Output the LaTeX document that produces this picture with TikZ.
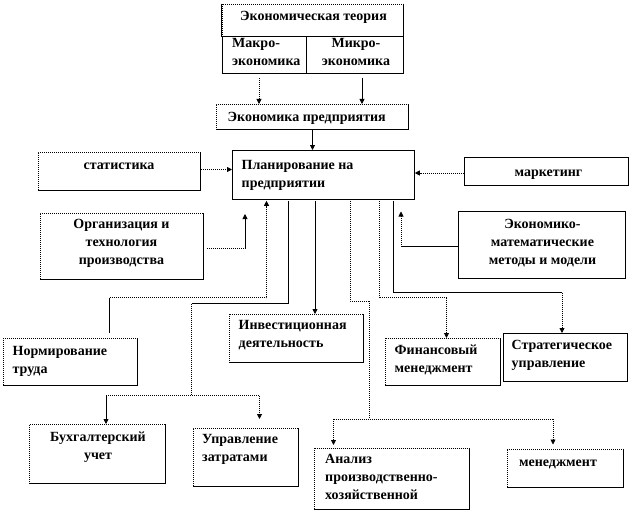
\documentclass[tikz,border=0pt]{standalone}
\usepackage{fontspec}
\setmainfont{Liberation Serif}
\usetikzlibrary{arrows.meta}
\begin{document}
\begin{tikzpicture}[x=1pt,y=-1pt,
  bx/.style={draw, dash pattern=on 1pt off 1pt, line width=0.8pt, inner sep=0pt, anchor=north west},
  bxs/.style={draw, line width=0.8pt, inner sep=0pt, anchor=north west},
  sl/.style={line width=0.8pt},
  dl/.style={line width=0.8pt, dash pattern=on 1pt off 1pt},
  arr/.style={-{Triangle[length=5pt,width=5pt]}},
  txt/.style={font=\bfseries\fontsize{14}{18}\selectfont, inner sep=0pt, align=left},
  txtc/.style={font=\bfseries\fontsize{14}{18}\selectfont, inner sep=0pt, align=center}]
\useasboundingbox (0,0) rectangle (630,511);
% boxes
\node[bx, minimum width=181, minimum height=32] (theory) at (221.5,4) {};
\node[bxs, minimum width=84.5, minimum height=37] (macro) at (221.5,36) {};
\node[bxs, minimum width=96.5, minimum height=37] (micro) at (306,36) {};
\node[bx, minimum width=192, minimum height=25] (ent) at (216,104) {};
\node[bx, minimum width=162.5, minimum height=38] (stat) at (37.5,152) {};
\node[bxs, minimum width=182, minimum height=49] (plan) at (232,150) {};
\node[bxs, minimum width=164, minimum height=28.5] (mkt) at (464,156.5) {};
\node[bx, minimum width=163.5, minimum height=66] (org) at (39.5,213) {};
\node[bxs, minimum width=167, minimum height=67] (emm) at (458,211) {};
\node[bx, minimum width=134, minimum height=48] (inv) at (228.5,314) {};
\node[bx, minimum width=134, minimum height=46.5] (norm) at (3,338) {};
\node[bx, minimum width=114.5, minimum height=47] (fin) at (385,338) {};
\node[bxs, minimum width=124.5, minimum height=48] (strat) at (502.5,333) {};
\node[bx, minimum width=135.5, minimum height=58.5] (buh) at (29,424) {};
\node[bx, minimum width=105.5, minimum height=58] (zat) at (192.5,428) {};
\node[bx, minimum width=154.5, minimum height=61] (anal) at (314,448) {};
\node[bx, minimum width=116, minimum height=38.5] (men) at (507,448.5) {};
\foreach \n in {theory,ent,stat,org,inv,norm,fin,buh,zat,anal,men}
  \draw[sl] (\n.north east) -- (\n.south east) -- (\n.south west);
\draw[sl] (theory.north west) -- (theory.south west);
% texts (base = baseline of the last line)
\node[txtc, anchor=base] (theoryT) at (313.5,21) {Экономическая теория};
\node[txt, anchor=base west] (macroT) at (232,66) {Макро-\\экономика};
\node[txtc, anchor=base] (microT) at (356,66) {Микро-\\экономика};
\node[txt, anchor=base west] (entT) at (227.5,121.5) {Экономика предприятия};
\node[txtc, anchor=base] (statT) at (119,169.5) {статистика};
\node[txt, anchor=base west] (planT) at (241.5,187.5) {Планирование на\\предприятии};
\node[txtc, anchor=base] (mktT) at (548.5,176) {маркетинг};
\node[txtc, anchor=base] (orgT) at (121.5,264.5) {Организация и\\технология\\производства};
\node[txtc, anchor=base] (emmT) at (542.5,264.5) {Экономико-\\математические\\методы и модели};
\node[txt, anchor=base west] (normT) at (12.5,373) {Нормирование\\труда};
\node[txt, anchor=base west] (invT) at (238.5,347.5) {Инвестиционная\\деятельность};
\node[txt, anchor=base west] (finT) at (394.5,372.5) {Финансовый\\менеджмент};
\node[txt, anchor=base west] (stratT) at (511.5,367) {Стратегическое\\управление};
\node[txtc, anchor=base] (buhT) at (98,459.5) {Бухгалтерский\\учет};
\node[txt, anchor=base west] (zatT) at (202,461.5) {Управление\\затратами};
\node[txt, anchor=base west] (analT) at (325,499.5) {Анализ\\производственно-\\хозяйственной};
\node[txtc, anchor=base] (menT) at (558,466) {менеджмент};
% helper coordinates
\coordinate (xa) at (259,0);
\coordinate (xb) at (362,0);
\coordinate (xc) at (312.5,0);
\coordinate (ya) at (0,169.5);
\coordinate (yb) at (0,173);
\coordinate (orgc) at (245,248);
\coordinate (orge) at (245,214);
\coordinate (emmc) at (401,246.5);
\coordinate (emme) at (401,211.5);
\coordinate (n1) at (109.5,297.5);
\coordinate (n2) at (266.5,297.5);
\coordinate (b1) at (288,303.5);
\coordinate (b2) at (191.5,303.5);
\coordinate (b3) at (191.5,395.5);
\coordinate (b4) at (106,395.5);
\coordinate (b5) at (259.5,395.5);
\coordinate (b6) at (259.5,419);
\coordinate (xi) at (315,0);
\coordinate (a1) at (350,301);
\coordinate (a2) at (369.5,301);
\coordinate (a3) at (369.5,419);
\coordinate (a4) at (333.5,419);
\coordinate (a5) at (553,419);
\coordinate (f1) at (379,297.5);
\coordinate (f2) at (446.5,297.5);
\coordinate (s1) at (393.5,292.5);
\coordinate (s2) at (562,292.5);
% connectors
\draw[dl, arr, shorten <=4pt] (macro.south -| xa) -- (ent.north -| xa);
\draw[sl, arr, shorten <=4pt] (micro.south -| xb) -- (ent.north -| xb);
\draw[sl, arr] (ent.south -| xc) -- (plan.north -| xc);
\draw[dl, arr] (stat.east |- ya) -- (plan.west |- ya);
\draw[dl, arr] (mkt.west |- yb) -- (plan.east |- yb);
\draw[dl, shorten <=3pt] (org.east |- orgc) -- (orgc);
\draw[sl, arr] (orgc) -- (orge);
\draw[sl] (emm.west |- emmc) -- (emmc);
\draw[dl, arr] (emmc) -- (emme);
\draw[sl, shorten <=5pt] (norm.north -| n1) -- (n1);
\draw[dl, arr, shorten >=1pt] (n1) -- (n2) -- (plan.south -| n2);
\draw[sl, shorten <=1pt] (plan.south -| b1) -- (b1) -- (b2);
\draw[dl] (b2) -- (b3);
\draw[dl] (b4) -- (b5);
\draw[sl, arr] (b4) -- (buh.north -| b4);
\draw[dl, arr] (b5) -- (b6);
\draw[sl, arr, shorten <=1pt] (plan.south -| xi) -- (inv.north -| xi);
\draw[dl, shorten <=1pt] (plan.south -| a1) -- (a1) -- (a2) -- (a3);
\draw[dl] (a4) -- (a5);
\draw[dl, arr, shorten >=3pt] (a4) -- (anal.north -| a4);
\draw[dl, arr, shorten >=4pt] (a5) -- (men.north -| a5);
\draw[dl, shorten <=1pt] (plan.south -| f1) -- (f1) -- (f2);
\draw[dl, arr] (f2) -- (fin.north -| f2);
\draw[sl, shorten <=1pt] (plan.south -| s1) -- (s1) -- (s2);
\draw[dl, arr] (s2) -- (strat.north -| s2);
\end{tikzpicture}
\end{document}
